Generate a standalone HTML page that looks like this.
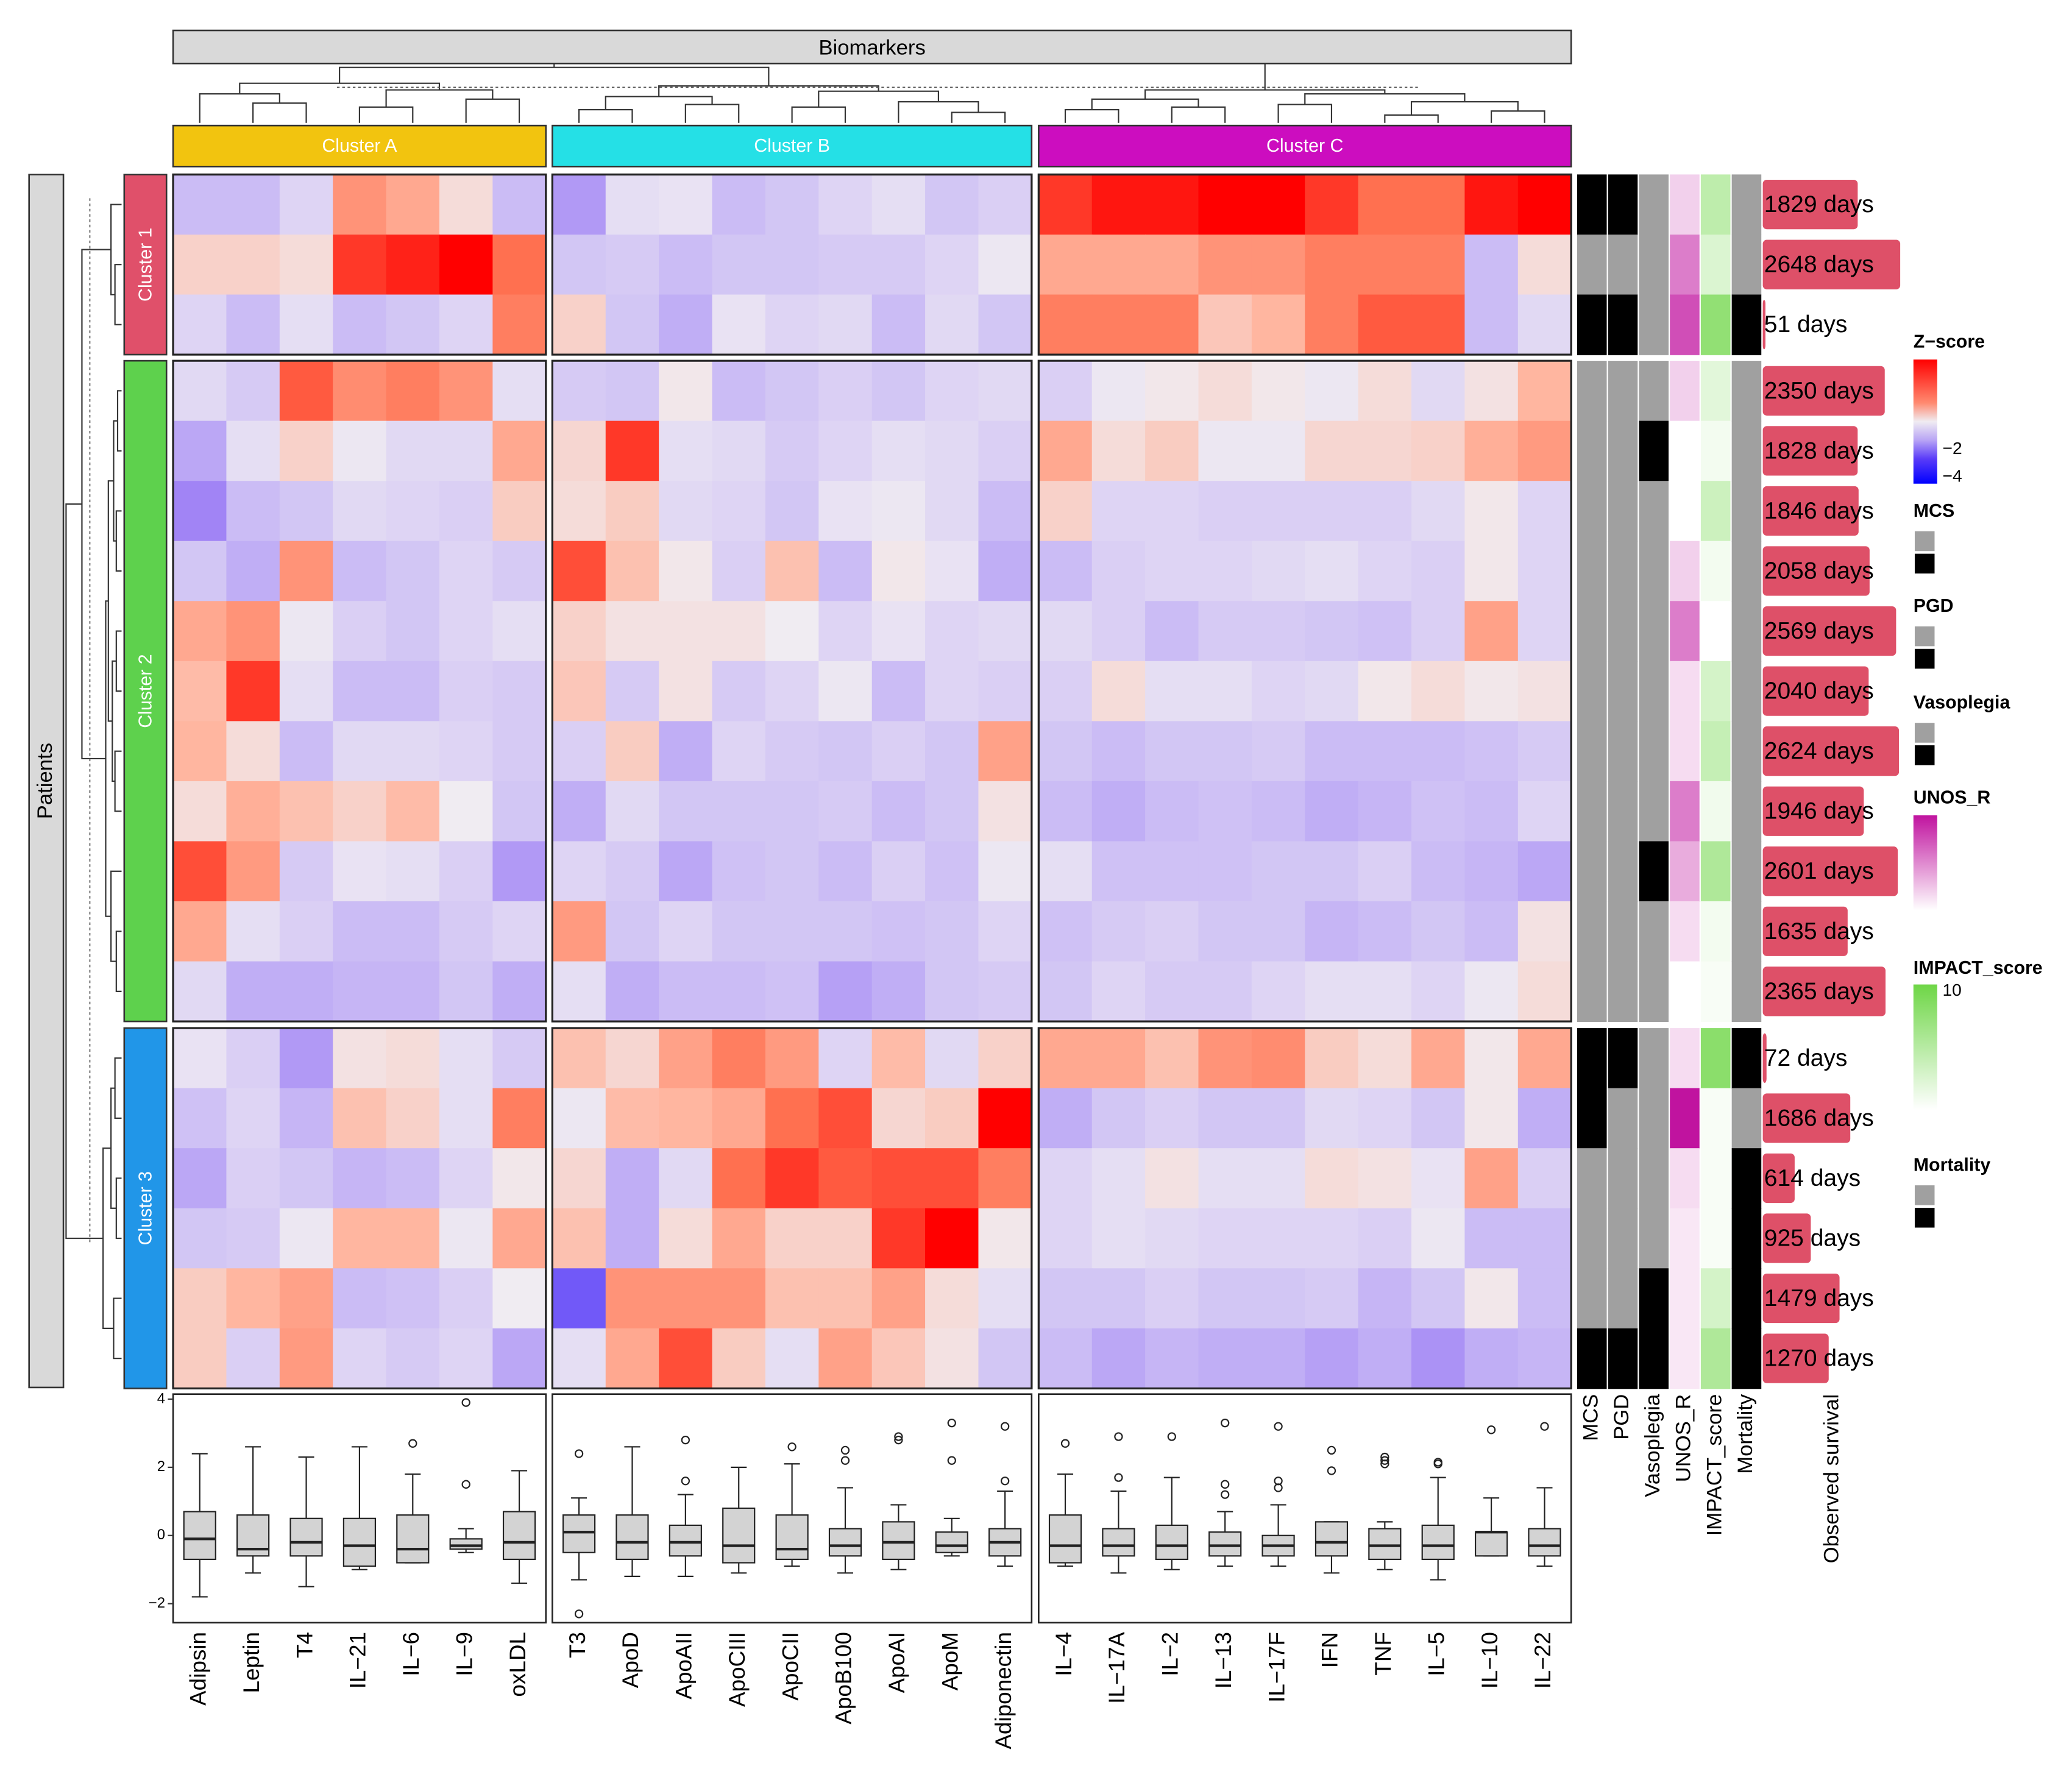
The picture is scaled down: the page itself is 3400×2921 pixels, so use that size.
<!DOCTYPE html>
<html><head><meta charset="utf-8"><style>html,body{margin:0;padding:0;background:#fff}svg{display:block}text{font-family:"Liberation Sans",sans-serif}</style></head>
<body>
<svg id="s" xmlns="http://www.w3.org/2000/svg" width="3400" height="2921" viewBox="0 0 1568 1347"></svg>
<script>
const biomarkers=["Adipsin","Leptin","T4","IL\u221221","IL\u22126","IL\u22129","oxLDL","T3","ApoD","ApoAII","ApoCIII","ApoCII","ApoB100","ApoAI","ApoM","Adiponectin","IL\u22124","IL\u221217A","IL\u22122","IL\u221213","IL\u221217F","IFN","TNF","IL\u22125","IL\u221210","IL\u221222"];
const survival=[1829,2648,51,2350,1828,1846,2058,2569,2040,2624,1946,2601,1635,2365,72,1686,614,925,1479,1270];
const zscores=[
[-1,-1,-0.5,1.5,1.2,0.3,-1,-1.5,-0.3,-0.2,-1,-0.8,-0.5,-0.3,-0.8,-0.6,2.5,2.8,2.8,3,3,2.5,2,2,2.8,3],
[0.5,0.5,0.3,2.5,2.7,3,2,-0.8,-0.7,-1,-0.8,-0.8,-0.7,-0.7,-0.5,-0.1,1.2,1.2,1.2,1.5,1.5,1.8,1.8,1.8,-1,0.3],
[-0.5,-1,-0.3,-1,-0.8,-0.5,1.8,0.5,-0.8,-1.2,-0.2,-0.5,-0.4,-1,-0.4,-0.8,1.8,1.8,1.8,0.7,1,1.8,2.2,2.2,-1,-0.4],
[-0.4,-0.7,2.2,1.6,1.8,1.5,-0.3,-0.7,-0.8,0.1,-1,-0.8,-0.6,-0.8,-0.5,-0.4,-0.6,-0.1,0.1,0.3,0.1,-0.1,0.3,-0.4,0.2,1],
[-1.3,-0.3,0.5,-0.1,-0.4,-0.4,1.2,0.4,2.5,-0.3,-0.4,-0.7,-0.5,-0.3,-0.4,-0.6,1.2,0.3,0.6,-0.1,-0.1,0.4,0.4,0.5,1.1,1.4],
[-1.8,-1,-0.8,-0.4,-0.5,-0.6,0.6,0.3,0.6,-0.4,-0.5,-0.8,-0.2,-0.1,-0.4,-1,0.5,-0.5,-0.5,-0.6,-0.6,-0.6,-0.6,-0.4,0.1,-0.5],
[-0.8,-1.2,1.5,-1,-0.8,-0.5,-0.7,2.3,0.8,0.1,-0.6,0.8,-1,0.1,-0.2,-1.2,-1,-0.6,-0.5,-0.5,-0.4,-0.3,-0.5,-0.6,0.1,-0.5],
[1.2,1.5,-0.1,-0.6,-0.8,-0.5,-0.3,0.5,0.2,0.2,0.2,0,-0.5,-0.2,-0.5,-0.4,-0.4,-0.6,-1,-0.7,-0.7,-0.8,-0.9,-0.6,1.3,-0.5],
[0.9,2.5,-0.3,-1,-1,-0.6,-0.7,0.7,-0.7,0.2,-0.7,-0.5,-0.1,-1,-0.5,-0.6,-0.6,0.3,-0.3,-0.3,-0.5,-0.4,0.1,0.3,0.1,0.2],
[1,0.3,-1,-0.4,-0.4,-0.5,-0.7,-0.6,0.6,-1.2,-0.5,-0.7,-0.8,-0.6,-0.8,1.3,-0.8,-1,-0.8,-0.8,-0.7,-1,-1,-1,-0.9,-0.7],
[0.3,1.1,0.8,0.5,0.9,0,-0.8,-1.2,-0.4,-0.8,-0.8,-0.8,-0.7,-1,-0.8,0.2,-1,-1.2,-1,-0.9,-1,-1.2,-1.1,-0.9,-1,-0.5],
[2.3,1.4,-0.7,-0.2,-0.3,-0.6,-1.5,-0.5,-0.7,-1.3,-0.9,-0.8,-1,-0.6,-0.9,-0.1,-0.3,-0.9,-0.9,-0.9,-0.8,-0.8,-0.6,-1,-1.1,-1.3],
[1.2,-0.3,-0.6,-1,-1,-0.7,-0.5,1.4,-0.8,-0.5,-0.8,-0.8,-0.8,-0.9,-0.8,-0.5,-0.9,-0.7,-0.6,-0.8,-0.8,-1.1,-1,-0.8,-1,0.2],
[-0.4,-1.2,-1.2,-1.1,-1.1,-0.8,-1.2,-0.3,-1.2,-1,-1,-0.9,-1.4,-1.2,-0.8,-0.7,-0.8,-0.5,-0.7,-0.7,-0.5,-0.3,-0.3,-0.5,-0.1,0.3],
[-0.2,-0.6,-1.5,0.2,0.3,-0.3,-0.7,0.8,0.4,1.3,1.8,1.4,-0.5,0.9,-0.4,0.5,1.2,1.2,0.8,1.5,1.6,0.6,0.3,1.2,0.1,1.2],
[-0.9,-0.5,-1.1,0.8,0.5,-0.3,1.8,-0.1,0.9,1,1.2,2,2.3,0.4,0.6,3,-1.2,-0.8,-0.6,-0.8,-0.8,-0.4,-0.5,-0.8,0.1,-1.2],
[-1.3,-0.6,-0.8,-1.1,-1,-0.5,0.1,0.4,-1.2,-0.4,2,2.5,2.2,2.3,2.3,1.8,-0.5,-0.3,0.2,-0.3,-0.3,0.3,0.2,-0.2,1.3,-0.6],
[-0.8,-0.7,-0.1,1,1,-0.1,1.2,0.8,-1.2,0.3,1.2,0.5,0.5,2.5,3,0.1,-0.5,-0.3,-0.4,-0.5,-0.5,-0.5,-0.6,-0.1,-1,-1],
[0.6,1,1.3,-1,-0.9,-0.6,0,-2.5,1.5,1.5,1.5,0.8,0.8,1.3,0.3,-0.3,-0.8,-0.8,-0.6,-0.8,-0.8,-0.7,-1.1,-0.8,0.1,-1],
[0.6,-0.6,1.4,-0.5,-0.7,-0.5,-1.3,-0.3,1.2,2.3,0.6,-0.3,1.3,0.7,0.2,-0.8,-1,-1.3,-1.1,-1.2,-1.2,-1.4,-1.2,-1.6,-1.2,-1.1]];
const mcs=[1,0,1,0,0,0,0,0,0,0,0,0,0,0,1,1,0,0,0,1];
const pgd=[1,0,1,0,0,0,0,0,0,0,0,0,0,0,1,0,0,0,0,1];
const vaso=[0,0,0,0,1,0,0,0,0,0,0,1,0,0,0,0,0,0,1,1];
const unos=[0.2,0.55,0.75,0.2,0,0,0.2,0.55,0.15,0.15,0.55,0.35,0.15,0,0.15,1,0.15,0.1,0.1,0.1];
const impact=[0.45,0.25,0.75,0.2,0.08,0.35,0.08,0,0.3,0.4,0.1,0.55,0.08,0.05,0.8,0.05,0.05,0.05,0.3,0.55];
const mortality=[0,0,1,0,0,0,0,0,0,0,0,0,0,0,1,0,1,1,1,1];
// boxplot stats: [median,q1,q3,whiskerLo,whiskerHi]
const boxStats=[[-0.1,-0.7,0.7,-1.8,2.4],[-0.4,-0.6,0.6,-1.1,2.6],[-0.2,-0.6,0.5,-1.5,2.3],[-0.3,-0.9,0.5,-1,2.6],[-0.4,-0.8,0.6,-0.8,1.8],[-0.3,-0.4,-0.1,-0.5,0.2],[-0.2,-0.7,0.7,-1.4,1.9],
[0.1,-0.5,0.6,-1.3,1.1],[-0.2,-0.7,0.6,-1.2,2.6],[-0.2,-0.6,0.3,-1.2,1.2],[-0.3,-0.8,0.8,-1.1,2],[-0.4,-0.7,0.6,-0.9,2.1],[-0.3,-0.6,0.2,-1.1,1.4],[-0.2,-0.7,0.4,-1,0.9],[-0.3,-0.5,0.1,-0.6,0.5],[-0.2,-0.6,0.2,-0.9,1.3],
[-0.3,-0.8,0.6,-0.9,1.8],[-0.3,-0.6,0.2,-1.1,1.3],[-0.3,-0.7,0.3,-1,1.7],[-0.3,-0.6,0.1,-0.9,0.7],[-0.3,-0.6,0,-0.9,0.9],[-0.2,-0.6,0.4,-1.1,0.4],[-0.3,-0.7,0.2,-1,0.4],[-0.3,-0.7,0.3,-1.3,1.7],[0.1,-0.6,0.1,-0.6,1.1],[-0.3,-0.6,0.2,-0.9,1.4]];
const outliers=[[],[],[],[],[2.7],[1.5,3.9],[],[2.4,-2.3],[],[1.6,2.8],[],[2.6],[2.2,2.5],[2.8,2.9],[2.2,3.3],[1.6,3.2],[2.7],[1.7,2.9],[2.9],[1.2,1.5,3.3],[1.4,1.6,3.2],[1.9,2.5],[2.1,2.2,2.3],[2.1,2.15],[3.1],[3.2]];
const boxTicks=[4,2,0,-2];
const annotNames=["MCS","PGD","Vasoplegia","UNOS_R","IMPACT_score","Mortality"];

const S=document.getElementById('s');const NS='http://www.w3.org/2000/svg';
function mk(tag,at,parent){const e=document.createElementNS(NS,tag);for(const k in at)e.setAttribute(k,at[k]);(parent||S).appendChild(e);return e;}
function txt(str,at,parent){const e=mk('text',at,parent);e.textContent=str;return e;}
const colGroups=[[0,7,131],[7,16,418],[16,26,786]];const CW=40.3;
const rowGroups=[[0,3,132],[3,14,273],[14,20,778]];const RH=45.45;
function colX(c){for(const g of colGroups)if(c>=g[0]&&c<g[1])return g[2]+(c-g[0])*CW;}
function rowY(r){for(const g of rowGroups)if(r>=g[0]&&r<g[1])return g[2]+(r-g[0])*RH;}
function lerp(a,b,t){return a.map((v,i)=>Math.round(v+(b[i]-v)*t));}
function zcol(v){const neg=[[0,[240,236,242]],[1,[203,188,245]],[2,[150,118,245]],[4,[0,0,255]]];const pos=[[0,[240,236,242]],[1,[255,182,160]],[2,[255,112,80]],[3,[255,0,0]]];const st=v<0?neg:pos;const a=Math.min(Math.abs(v),st[st.length-1][0]);for(let i=1;i<st.length;i++){if(a<=st[i][0]){const t=(a-st[i-1][0])/(st[i][0]-st[i-1][0]);return 'rgb('+lerp(st[i-1][1],st[i][1],t)+')';}}return 'rgb('+st[st.length-1][1]+')';}
// heatmap cells
const hm=mk('g',{});
zscores.forEach((row,r)=>row.forEach((v,c)=>{const e=mk('rect',{x:colX(c),y:rowY(r),width:CW+0.4,height:RH+0.4,fill:zcol(v)},hm);}));
// block borders
colGroups.forEach(cg=>rowGroups.forEach(rg=>{mk('rect',{x:cg[2],y:rg[2],width:(cg[1]-cg[0])*CW,height:(rg[1]-rg[0])*RH,fill:'none',stroke:'#222','stroke-width':1.5,});}));
// top strip
mk('rect',{x:131,y:23,width:1058,height:25,fill:'#d9d9d9',stroke:'#333','stroke-width':1.2,});
txt('Biomarkers',{x:660,y:37,'font-size':16,'text-anchor':'middle','dominant-baseline':'middle',});
// cluster labels
[['Cluster A','#f2c40f'],['Cluster B','#25e0e6'],['Cluster C','#cc0dbf']].forEach((c,i)=>{const g=colGroups[i];const w=(g[1]-g[0])*CW;mk('rect',{x:g[2],y:95,width:w,height:31,fill:c[1],stroke:'#333','stroke-width':1.2,});txt(c[0],{x:g[2]+w/2,y:111,'font-size':14,fill:'#fff','text-anchor':'middle','dominant-baseline':'middle',});});
// left strip
mk('rect',{x:22,y:132,width:26,height:918,fill:'#d9d9d9',stroke:'#333','stroke-width':1.2,});
txt('Patients',{x:0,y:0,'font-size':16,'text-anchor':'middle','dominant-baseline':'middle',transform:'translate(35,591) rotate(-90)',});
[['Cluster 1','#e0506a'],['Cluster 2','#5ed14d'],['Cluster 3','#2196e8']].forEach((c,i)=>{const g=rowGroups[i];const h=(g[1]-g[0])*RH;mk('rect',{x:94,y:g[2],width:32,height:h,fill:c[1],stroke:'#333','stroke-width':1.2,});txt(c[0],{x:0,y:0,'font-size':14,fill:'#fff','text-anchor':'middle','dominant-baseline':'middle',transform:'translate(111,'+(g[2]+h/2)+') rotate(-90)',});});
// dendrograms
const colTree=[45,[42,[30,[22,0,[15,1,2]],[25,[12,3,4],[18,5,6]]],[28,[20,[10,7,8],[14,9,10]],[24,[12,11,12],[16,13,[8,14,15]]]]],[25,[18,[10,16,17],[12,18,19]],[22,[14,20,21],[16,[6,22,23],[9,24,25]]]]];
const dg=mk('g',{stroke:'#333','stroke-width':1,fill:'none',});
function drawCol(n){if(typeof n==='number')return [colX(n)+CW/2,0];const a=drawCol(n[1]),b=drawCol(n[2]);const Y=h=>93-h;mk('path',{d:`M${a[0]},${Y(a[1])}V${Y(n[0])}H${b[0]}V${Y(b[1])}`},dg);return [(a[0]+b[0])/2,n[0]];}
drawCol(colTree);
mk('line',{x1:255,x2:1075,y1:66,y2:66,stroke:'#555','stroke-width':0.8,'stroke-dasharray':'2,2',});
const rowTree=[42,[30,[8,0,[5,1,2]],[12,[10,[6,[3,3,4],[4,5,6]],[7,[4,7,8],[5,9,10]]],[8,11,[4,12,13]]]],[14,[8,[5,14,15],[4,16,17]],[6,18,19]]];
const rg=mk('g',{stroke:'#333','stroke-width':1,fill:'none',});
function drawRow(n){if(typeof n==='number')return [rowY(n)+RH/2,0];const a=drawRow(n[1]),b=drawRow(n[2]);const X=h=>92-h;mk('path',{d:`M${X(a[1])},${a[0]}H${X(n[0])}V${b[0]}H${X(b[1])}`},rg);return [(a[0]+b[0])/2,n[0]];}
drawRow(rowTree);
mk('line',{x1:68,x2:68,y1:150,y2:940,stroke:'#555','stroke-width':0.8,'stroke-dasharray':'2,2',});
// annotations
const AX=1193,AW=23.4;
function pinkC(t){return 'rgb('+lerp([255,255,255],[192,19,159],t)+')';}
function greenC(t){return 'rgb('+lerp([255,255,255],[110,214,70],t)+')';}
const ag=mk('g',{});
for(let r=0;r<20;r++){const vals=[mcs[r]?'#000':'#a0a0a0',pgd[r]?'#000':'#a0a0a0',vaso[r]?'#000':'#a0a0a0',pinkC(unos[r]),greenC(impact[r]),mortality[r]?'#000':'#a0a0a0'];
vals.forEach((f,i)=>{const e=mk('rect',{x:AX+i*AW+0.5,y:rowY(r),width:AW-1,height:RH+0.4,fill:f},ag);});}
annotNames.forEach((n,i)=>txt(n,{x:0,y:0,'font-size':16,'text-anchor':'end','dominant-baseline':'middle',transform:`translate(${AX+i*AW+AW/2},1055) rotate(-90)`,}));
// survival bars
const sv=mk('g',{});
const sx=v=>v*104/2648;
survival.forEach((v,r)=>{const y=rowY(r);const e=mk('rect',{x:1334,y:y+4,width:Math.max(sx(v),2),height:RH-8,rx:3,fill:'#de5068'},sv);
txt(v+' days',{x:1335,y:y+RH/2+1,'font-size':18,'dominant-baseline':'middle',},sv);});
txt('Observed survival',{x:0,y:0,'font-size':16,'text-anchor':'end','dominant-baseline':'middle',transform:'translate(1387,1055) rotate(-90)',});
// boxplots
const by=v=>1162-v*25.8;
colGroups.forEach(g=>mk('rect',{x:g[2],y:1055,width:(g[1]-g[0])*CW,height:173,fill:'none',stroke:'#222','stroke-width':1.2,}));
boxTicks.forEach(t=>{mk('line',{x1:127,x2:131,y1:by(t),y2:by(t),stroke:'#333',});txt(String(t).replace('-','\u2212'),{x:125,y:by(t),'font-size':11,'text-anchor':'end','dominant-baseline':'middle',});});
const bg=mk('g',{stroke:'#222','stroke-width':1,});
boxStats.forEach((b,c)=>{const cx=colX(c)+CW/2,hw=12;
mk('line',{x1:cx,x2:cx,y1:by(b[4]),y2:by(b[2])},bg);mk('line',{x1:cx,x2:cx,y1:by(b[1]),y2:by(b[3])},bg);
mk('line',{x1:cx-6,x2:cx+6,y1:by(b[4]),y2:by(b[4])},bg);mk('line',{x1:cx-6,x2:cx+6,y1:by(b[3]),y2:by(b[3])},bg);
const e=mk('rect',{x:cx-hw,y:by(b[2]),width:2*hw,height:by(b[1])-by(b[2]),fill:'#d3d3d3'},bg);
mk('line',{x1:cx-hw,x2:cx+hw,y1:by(b[0]),y2:by(b[0]),'stroke-width':2},bg);
outliers[c].forEach(o=>mk('circle',{cx:cx,cy:by(o),r:2.8,fill:'none'},bg));
txt(biomarkers[c],{x:0,y:0,'font-size':17,'text-anchor':'end','dominant-baseline':'middle',stroke:'none',transform:`translate(${cx},1235) rotate(-90)`,});});
// legends
const defs=mk('defs',{});
function grad(id,stops){const g=mk('linearGradient',{id,x1:0,y1:0,x2:0,y2:1},defs);stops.forEach(s=>mk('stop',{offset:s[0],'stop-color':s[1]},g));}
grad('zg',[[0,'#ff0000'],[0.35,'#ff8a70'],[0.5,'#f0ecf2'],[0.65,'#b8a4f5'],[0.8,'#5a3cf8'],[1,'#0000ff']]);
grad('ug',[[0,'#c0139f'],[1,'#ffffff']]);grad('ig',[[0,'#6ed646'],[1,'#ffffff']]);
const lg=mk('g',{});
const LX=1448;
txt('Z\u2212score',{x:LX,y:263,'font-size':14,'font-weight':'bold'},lg);
mk('rect',{x:LX,y:272,width:18,height:94,fill:'url(#zg)'},lg);
txt('\u22122',{x:LX+22,y:340,'font-size':13,'dominant-baseline':'middle'},lg);txt('\u22124',{x:LX+22,y:361,'font-size':13,'dominant-baseline':'middle'},lg);
[['MCS',391],['PGD',463],['Vasoplegia',536],['Mortality',886]].forEach(l=>{txt(l[0],{x:LX,y:l[1],'font-size':14,'font-weight':'bold',},lg);mk('rect',{x:LX+1,y:l[1]+11,width:15,height:15,fill:'#a0a0a0'},lg);mk('rect',{x:LX+1,y:l[1]+28,width:15,height:15,fill:'#000'},lg);});
txt('UNOS_R',{x:LX,y:608,'font-size':14,'font-weight':'bold'},lg);mk('rect',{x:LX,y:617,width:18,height:72,fill:'url(#ug)'},lg);
txt('IMPACT_score',{x:LX,y:737,'font-size':14,'font-weight':'bold'},lg);mk('rect',{x:LX,y:745,width:18,height:95,fill:'url(#ig)'},lg);
txt('10',{x:LX+22,y:750,'font-size':13,'dominant-baseline':'middle'},lg);
</script>
</body></html>
